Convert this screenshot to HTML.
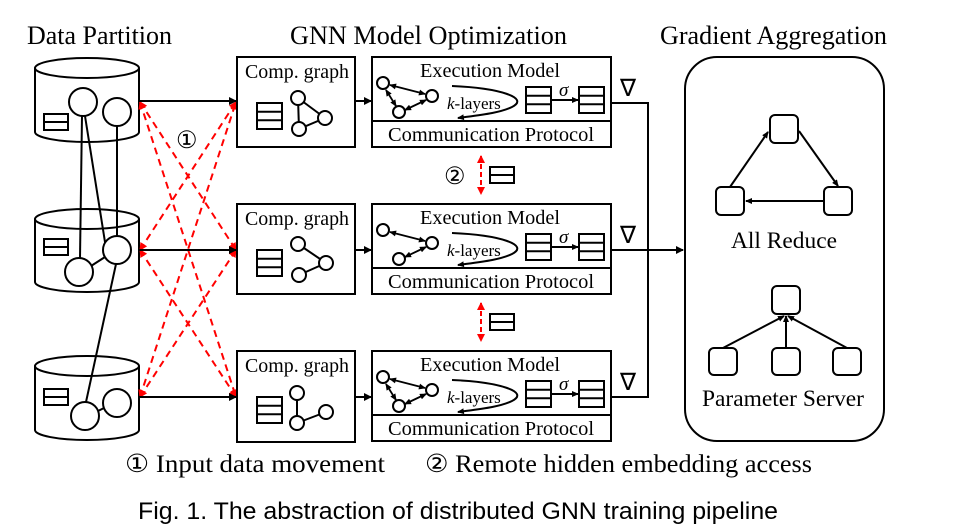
<!DOCTYPE html>
<html><head><meta charset="utf-8"><style>
html,body{margin:0;padding:0;background:#fff;}
svg{display:block;}
text{font-family:"Liberation Serif",serif;fill:#000;}
.s{font-family:"Liberation Sans Narrow","Liberation Sans",sans-serif;}
</style></head><body>
<svg width="961" height="529" viewBox="0 0 961 529" xmlns="http://www.w3.org/2000/svg">
<defs>
<marker id="a" markerWidth="8" markerHeight="8" refX="7" refY="4" orient="auto-start-reverse" markerUnits="userSpaceOnUse"><path d="M0,0 L8,4 L0,8 z" fill="#000"/></marker>
<marker id="as" markerWidth="7" markerHeight="6" refX="6" refY="3" orient="auto-start-reverse" markerUnits="userSpaceOnUse"><path d="M0,0 L7,3 L0,6 z" fill="#000"/></marker>
<marker id="r" markerWidth="8" markerHeight="8" refX="7" refY="4" orient="auto-start-reverse" markerUnits="userSpaceOnUse"><path d="M0,0 L8,4 L0,8 z" fill="#f00"/></marker>
<g id="tbl2"><rect x="0" y="0" width="24" height="16" fill="#fff" stroke="#000" stroke-width="2"/><line x1="0" y1="8" x2="24" y2="8" stroke="#000" stroke-width="2"/></g>
<g id="tbl3"><rect x="0" y="0" width="25" height="26" fill="#fff" stroke="#000" stroke-width="2"/><line x1="0" y1="8.7" x2="25" y2="8.7" stroke="#000" stroke-width="2"/><line x1="0" y1="17.3" x2="25" y2="17.3" stroke="#000" stroke-width="2"/></g>
</defs>

<!-- titles -->
<text x="27" y="44" font-size="26" textLength="145" lengthAdjust="spacingAndGlyphs">Data Partition</text>
<text x="290" y="44" font-size="26" textLength="277" lengthAdjust="spacingAndGlyphs">GNN Model Optimization</text>
<text x="660" y="44" font-size="26" textLength="227" lengthAdjust="spacingAndGlyphs">Gradient Aggregation</text>

<g stroke="#000" stroke-width="2" fill="#fff">
<path d="M35,68 L35,132 A52,10 0 0 0 139,132 L139,68"/>
<ellipse cx="87" cy="68" rx="52" ry="10"/>
<path d="M35,219 L35,282 A52,10 0 0 0 139,282 L139,219"/>
<ellipse cx="87" cy="219" rx="52" ry="10"/>
<path d="M35,366 L35,430 A52,10 0 0 0 139,430 L139,366"/>
<ellipse cx="87" cy="366" rx="52" ry="10"/>
</g>
<use href="#tbl2" x="44" y="114"/>
<use href="#tbl2" x="44" y="239"/>
<use href="#tbl2" x="44" y="389"/>
<g stroke="#000" stroke-width="2">
<line x1="82" y1="116" x2="80" y2="258"/>
<line x1="85" y1="116" x2="108" y2="261"/>
<line x1="117" y1="126" x2="117" y2="236"/>
<line x1="91" y1="266" x2="105" y2="257"/>
<line x1="116" y1="264" x2="86" y2="402"/>
<line x1="96" y1="412" x2="106" y2="407"/>
</g>
<g stroke="#000" stroke-width="2" fill="#fff">
<circle cx="83" cy="102" r="14"/><circle cx="117" cy="112" r="14"/>
<circle cx="79" cy="272" r="14"/><circle cx="117" cy="250" r="14"/>
<circle cx="85" cy="416" r="14"/><circle cx="117" cy="403" r="14"/>
</g>

<g stroke="#f00" stroke-width="2" stroke-dasharray="7,5" fill="none" marker-start="url(#r)" marker-end="url(#r)">
<line x1="140" y1="102" x2="236" y2="250"/>
<line x1="140" y1="102" x2="236" y2="397"/>
<line x1="140" y1="250" x2="236" y2="102"/>
<line x1="140" y1="250" x2="236" y2="397"/>
<line x1="140" y1="397" x2="236" y2="102"/>
<line x1="140" y1="397" x2="236" y2="250"/>
</g>
<text x="176" y="148" font-size="24">①</text>

<g stroke="#000" stroke-width="2" marker-end="url(#a)">
<line x1="139" y1="101" x2="236" y2="101"/>
<line x1="139" y1="250" x2="236" y2="250"/>
<line x1="139" y1="397" x2="236" y2="397"/>
<line x1="355" y1="101" x2="371" y2="101"/>
<line x1="355" y1="250" x2="371" y2="250"/>
<line x1="355" y1="397" x2="371" y2="397"/>
</g>

<g stroke="#000" stroke-width="2" fill="#fff">
<rect x="237" y="57" width="118" height="90"/>
<rect x="237" y="204" width="118" height="90"/>
<rect x="237" y="351" width="118" height="91"/>
</g>
<text x="297" y="78" font-size="20" text-anchor="middle" textLength="104" lengthAdjust="spacingAndGlyphs">Comp. graph</text>
<text x="297" y="225" font-size="20" text-anchor="middle" textLength="104" lengthAdjust="spacingAndGlyphs">Comp. graph</text>
<text x="297" y="372" font-size="20" text-anchor="middle" textLength="104" lengthAdjust="spacingAndGlyphs">Comp. graph</text>
<use href="#tbl3" x="257" y="103"/>
<use href="#tbl3" x="257" y="250"/>
<use href="#tbl3" x="257" y="397"/>
<g stroke="#000" stroke-width="2" fill="#fff">
<line x1="298" y1="98" x2="325" y2="118"/><line x1="298" y1="98" x2="299" y2="129"/><line x1="299" y1="129" x2="325" y2="118"/>
<circle cx="298" cy="98" r="7"/><circle cx="325" cy="118" r="7"/><circle cx="299" cy="129" r="7"/>
<line x1="298" y1="244" x2="326" y2="263"/><line x1="299" y1="275" x2="326" y2="263"/>
<circle cx="298" cy="244" r="7"/><circle cx="326" cy="263" r="7"/><circle cx="299" cy="275" r="7"/>
<line x1="297" y1="393" x2="297" y2="423"/><line x1="297" y1="423" x2="326" y2="412"/>
<circle cx="297" cy="393" r="7"/><circle cx="297" cy="423" r="7"/><circle cx="326" cy="412" r="7"/>
</g>

<g id="ex">
<rect x="372" y="57" width="239" height="90" fill="#fff" stroke="#000" stroke-width="2"/>
<line x1="372" y1="121" x2="611" y2="121" stroke="#000" stroke-width="2"/>
<text x="490" y="77" font-size="20" text-anchor="middle" textLength="140" lengthAdjust="spacingAndGlyphs">Execution Model</text>
<text x="491" y="141" font-size="20" text-anchor="middle" textLength="206" lengthAdjust="spacingAndGlyphs">Communication Protocol</text>
<path d="M452,86 C500,88 530,98 512,107 C500,113 480,115 458,118" fill="none" stroke="#000" stroke-width="2" marker-end="url(#as)"/>
<text x="447" y="109" font-size="17"><tspan font-style="italic">k</tspan>-layers</text>
<use href="#tbl3" x="526" y="87"/>
<use href="#tbl3" x="579" y="87"/>
<line x1="551" y1="100" x2="578" y2="100" stroke="#000" stroke-width="2" marker-end="url(#as)"/>
<text x="559" y="96" font-size="19" font-style="italic">σ</text>
</g>
<use href="#ex" y="147"/>
<use href="#ex" y="294"/>
<g stroke="#000" stroke-width="1.8" marker-start="url(#as)" marker-end="url(#as)">
<line x1="390" y1="85" x2="425" y2="94"/><line x1="386" y1="90" x2="396" y2="106"/><line x1="405" y1="110" x2="426" y2="100"/>
<line x1="390" y1="232" x2="425" y2="241"/><line x1="405" y1="257" x2="426" y2="247"/>
<line x1="390" y1="379" x2="425" y2="388"/><line x1="386" y1="384" x2="396" y2="400"/><line x1="405" y1="404" x2="426" y2="394"/>
</g>
<g stroke="#000" stroke-width="2" fill="#fff">
<circle cx="383" cy="83" r="6"/><circle cx="432" cy="96" r="6"/><circle cx="399" cy="112" r="6"/>
<circle cx="383" cy="230" r="6"/><circle cx="432" cy="243" r="6"/><circle cx="399" cy="259" r="6"/>
<circle cx="383" cy="377" r="6"/><circle cx="432" cy="390" r="6"/><circle cx="399" cy="406" r="6"/>
</g>

<g stroke="#f00" stroke-width="2" stroke-dasharray="5,3" marker-start="url(#r)" marker-end="url(#r)">
<line x1="481" y1="156" x2="481" y2="194"/>
<line x1="481" y1="303" x2="481" y2="341"/>
</g>
<text x="444" y="184" font-size="24">②</text>
<use href="#tbl2" x="490" y="167"/>
<use href="#tbl2" x="490" y="314"/>

<text x="620" y="96" font-size="24">∇</text>
<text x="620" y="243" font-size="24">∇</text>
<text x="620" y="390" font-size="24">∇</text>
<polyline points="611,103 648,103 648,397 611,397" stroke="#000" stroke-width="2" fill="none"/>
<line x1="611" y1="250" x2="683" y2="250" stroke="#000" stroke-width="2" marker-end="url(#a)"/>

<rect x="685" y="57" width="199" height="384" rx="32" fill="#fff" stroke="#000" stroke-width="2"/>
<g stroke="#000" stroke-width="2" fill="#fff">
<rect x="770" y="115" width="28" height="28" rx="5"/>
<rect x="716" y="187" width="28" height="28" rx="5"/>
<rect x="824" y="187" width="28" height="28" rx="5"/>
<rect x="772" y="286" width="28" height="28" rx="5"/>
<rect x="709" y="348" width="28" height="27" rx="5"/>
<rect x="772" y="348" width="28" height="27" rx="5"/>
<rect x="833" y="348" width="28" height="27" rx="5"/>
</g>
<g stroke="#000" stroke-width="2" marker-end="url(#as)">
<line x1="730" y1="187" x2="768" y2="132"/>
<line x1="799" y1="131" x2="838" y2="186"/>
<line x1="824" y1="201" x2="746" y2="201"/>
<line x1="723" y1="348" x2="784" y2="316"/>
<line x1="786" y1="348" x2="786" y2="316"/>
<line x1="847" y1="348" x2="788" y2="316"/>
</g>
<text x="784" y="248" font-size="23" text-anchor="middle" textLength="106" lengthAdjust="spacingAndGlyphs">All Reduce</text>
<text x="783" y="406" font-size="23" text-anchor="middle" textLength="162" lengthAdjust="spacingAndGlyphs">Parameter Server</text>

<text x="125" y="472" font-size="25" textLength="260" lengthAdjust="spacingAndGlyphs">① Input data movement</text>
<text x="425" y="472" font-size="25" textLength="387" lengthAdjust="spacingAndGlyphs">② Remote hidden embedding access</text>
<text class="s" x="138" y="519" font-size="24" textLength="640" lengthAdjust="spacingAndGlyphs">Fig. 1.  The abstraction of distributed GNN training pipeline</text>
</svg>
</body></html>
